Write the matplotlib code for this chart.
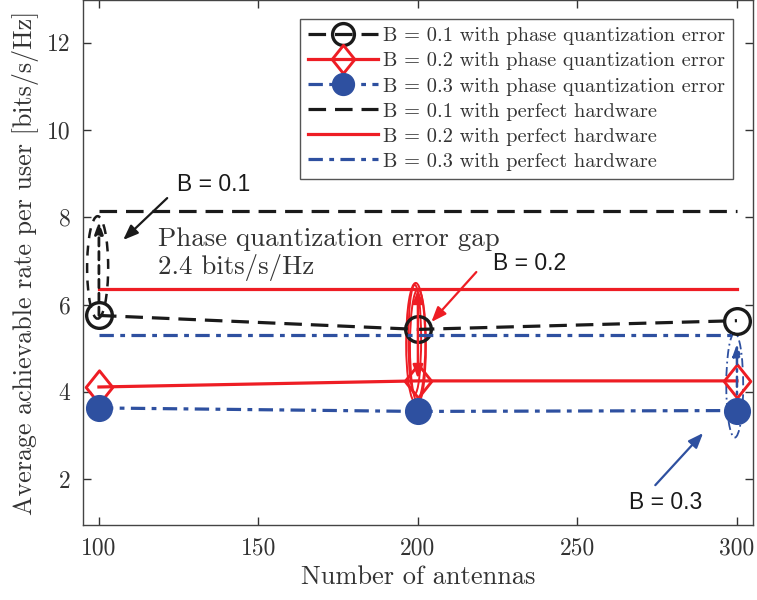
import os
import matplotlib
matplotlib.use("Agg")
import matplotlib.pyplot as plt
from matplotlib.patches import Ellipse
from matplotlib.path import Path
from matplotlib.font_manager import FontProperties

plt.rcParams["font.family"] = "serif"
plt.rcParams["font.serif"] = ["cmr10"]
plt.rcParams["mathtext.fontset"] = "cm"
plt.rcParams["axes.formatter.use_mathtext"] = True

# ---------------- data ----------------
antennas = [100, 200, 300]
rate_pqe_b01 = [5.75, 5.43, 5.63]
rate_pqe_b02 = [4.11, 4.25, 4.25]
rate_pqe_b03 = [3.63, 3.55, 3.57]
rate_perfect_b01 = [8.14, 8.14, 8.14]
rate_perfect_b02 = [6.36, 6.36, 6.36]
rate_perfect_b03 = [5.30, 5.30, 5.30]

x_ticks = [100, 150, 200, 250, 300]
x_ticklabels = ["100", "150", "200", "250", "300"]
y_ticks = [2, 4, 6, 8, 10, 12]
y_ticklabels = ["2", "4", "6", "8", "10", "12"]

labels = [
    "B = 0.1 with phase quantization error",
    "B = 0.2 with phase quantization error",
    "B = 0.3 with phase quantization error",
    "B = 0.1 with perfect hardware",
    "B = 0.2 with perfect hardware",
    "B = 0.3 with perfect hardware",
]

BLACK = "#1a1a1a"
RED = "#ee1d24"
BLUE = "#2e50a0"
GRAY = "#333333"

DASH = (0, (5.5, 2.8))
DASHDOT = (0, (4.5, 2, 1.5, 2))

cm_path = os.path.join(matplotlib.get_data_path(), "fonts", "ttf", "cmr10.ttf")
tick_font = FontProperties(fname=cm_path, size=17)

# taller-than-wide diamond like MATLAB's
diamond = Path([(0, 1), (0.8, 0), (0, -1), (-0.8, 0), (0, 1)],
               [Path.MOVETO, Path.LINETO, Path.LINETO, Path.LINETO, Path.CLOSEPOLY])

fig = plt.figure(figsize=(7.57, 6.0), dpi=100)
ax = fig.add_axes([0.1096, 0.1245, 0.885, 0.8755])

lw = 2.3
ax.plot(antennas, rate_pqe_b01, color=BLACK, ls=DASH, lw=lw,
        marker="o", ms=18.5, mfc="none", mec=BLACK, mew=2.4, label=labels[0])
ax.plot(antennas, rate_pqe_b02, color=RED, ls="-", lw=lw,
        marker=diamond, ms=24, mfc="none", mec=RED, mew=2.1, label=labels[1])
ax.plot(antennas, rate_pqe_b03, color=BLUE, ls=DASHDOT, lw=lw,
        marker="o", ms=18.5, mfc=BLUE, mec=BLUE, label=labels[2])
ax.plot(antennas, rate_perfect_b01, color=BLACK, ls=DASH, lw=lw, label=labels[3])
ax.plot(antennas, rate_perfect_b02, color=RED, ls="-", lw=lw, label=labels[4])
ax.plot(antennas, rate_perfect_b03, color=BLUE, ls=DASHDOT, lw=lw, label=labels[5])

# ---------------- gap markings ----------------
ax.add_patch(Ellipse((99.6, 6.85), 6.6, 2.35, fill=False, ec=BLACK, lw=1.8, ls=(0, (4, 3))))
ax.annotate("", xy=(100, 7.9), xytext=(100, 5.75),
            arrowprops=dict(arrowstyle="-|>,head_length=0.7,head_width=0.25",
                            color=BLACK, lw=2.0, ls=(0, (3, 2)), shrinkA=0, shrinkB=0))

for cx, cy, w, h in [(199.3, 5.12, 6.0, 2.75), (200.0, 5.05, 5.0, 2.6), (199.0, 5.2, 4.0, 2.5)]:
    ax.add_patch(Ellipse((cx, cy), w, h, fill=False, ec=RED, lw=1.4))
ax.annotate("", xy=(200, 6.35), xytext=(200, 4.3),
            arrowprops=dict(arrowstyle="<|-|>,head_length=0.8,head_width=0.3",
                            color=RED, lw=1.8, shrinkA=0, shrinkB=0))

ax.add_patch(Ellipse((299.3, 4.15), 5.3, 2.4, fill=False, ec=BLUE, lw=1.3, ls=(0, (5, 2, 1, 2))))
ax.annotate("", xy=(300, 5.1), xytext=(300, 3.6),
            arrowprops=dict(arrowstyle="-|>,head_length=0.7,head_width=0.25",
                            color=BLUE, lw=1.8, ls=(0, (4, 2, 1, 2)), shrinkA=0, shrinkB=0))

# ---------------- callouts ----------------
sans = "Liberation Sans"
head = "-|>,head_length=0.9,head_width=0.35"
ax.annotate("", xy=(107.6, 7.48), xytext=(121.4, 8.44),
            arrowprops=dict(arrowstyle=head, color=BLACK, lw=1.6, shrinkA=0, shrinkB=0))
ax.annotate("", xy=(204.2, 5.6), xytext=(218.3, 6.745),
            arrowprops=dict(arrowstyle=head, color=RED, lw=1.6, shrinkA=0, shrinkB=0))
ax.annotate("", xy=(289.4, 3.055), xytext=(274.4, 1.86),
            arrowprops=dict(arrowstyle=head, color=BLUE, lw=1.6, shrinkA=0, shrinkB=0))
ax.text(135.9, 8.74, "B = 0.1", fontsize=16.5, family=sans, color=BLACK, ha="center", va="center")
ax.text(234.9, 6.95, "B = 0.2", fontsize=16.5, family=sans, color=BLACK, ha="center", va="center")
ax.text(277.5, 1.47, "B = 0.3", fontsize=16.5, family=sans, color=BLACK, ha="center", va="center")

ax.text(118.6, 7.16, "Phase quantization error gap\n2.4 bits/s/Hz",
        fontsize=19.4, color=GRAY, ha="left", va="center", linespacing=1.15)

# ---------------- axes ----------------
ax.set_xlim(95, 305)
ax.set_ylim(0.94, 12.98)
ax.set_xticks(x_ticks, labels=x_ticklabels)
ax.set_yticks(y_ticks, labels=y_ticklabels)
ax.tick_params(direction="in", top=True, right=True, length=6, width=1,
               colors=GRAY, pad=9)
for lab in ax.get_xticklabels() + ax.get_yticklabels():
    lab.set_fontproperties(tick_font)
for sp in ax.spines.values():
    sp.set_color("#444444")
    sp.set_linewidth(1.0)

ax.set_xlabel("Number of antennas", fontsize=19, color=GRAY, labelpad=4)
ax.set_ylabel("Average achievable rate per user [bits/s/Hz]", fontsize=18.7, color=GRAY, labelpad=6)

leg = ax.legend(loc="upper right", bbox_to_anchor=(733 / 757, 1 - 19 / 600),
                bbox_transform=fig.transFigure, borderaxespad=0,
                fontsize=14.7, handlelength=3.4, labelspacing=0.33,
                handletextpad=0.25, borderpad=0.4, fancybox=False,
                framealpha=1, edgecolor="#555555", markerscale=0.85)
leg.get_frame().set_linewidth(1.0)
for t in leg.get_texts():
    t.set_color(GRAY)

fig.savefig("out.png", dpi=100)
